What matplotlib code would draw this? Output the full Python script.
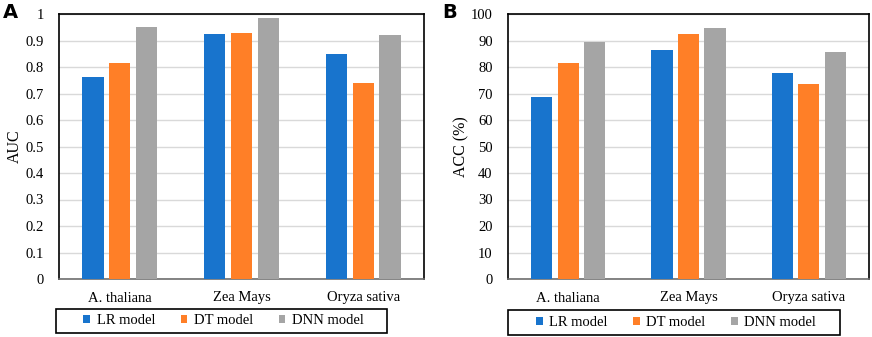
import numpy as np
import matplotlib
matplotlib.use('Agg')
import matplotlib.pyplot as plt
from matplotlib.patches import Rectangle

plt.rcParams['font.family'] = ['Liberation Serif', 'DejaVu Serif']

species = ['A. thaliana', 'Zea Mays', 'Oryza sativa']
models = ['LR model', 'DT model', 'DNN model']
colors = ['#1874CD', '#FF7F27', '#A5A5A5']

# AUC values (panel A)
auc_lr = [0.761, 0.924, 0.848]
auc_dt = [0.816, 0.929, 0.738]
auc_dnn = [0.952, 0.986, 0.921]

# ACC values in % (panel B)
acc_lr = [68.8, 86.6, 77.6]
acc_dt = [81.6, 92.6, 73.6]
acc_dnn = [89.4, 94.8, 85.5]

fig = plt.figure(figsize=(8.72, 3.37), dpi=100)


def draw_panel(rect, series, ylim, yticks, ylabel, letter, letter_x, leg_box, ylabel_x):
    ax = fig.add_axes(rect)
    x = np.arange(len(species))
    width = 0.175
    offsets = [-0.22, 0, 0.22]
    handles = []
    for vals, off, c, lab in zip(series, offsets, colors, models):
        h = ax.bar(x + off, vals, width, color=c, label=lab, zorder=3)
        handles.append(h)
    ax.set_xlim(-0.5, 2.5)
    ax.set_ylim(*ylim)
    ax.set_yticks(yticks)
    ax.set_xticks(x)
    ax.set_xticklabels(species, fontsize=10.5)
    ax.tick_params(axis='y', labelsize=10.5, length=0, pad=11)
    ax.tick_params(axis='x', length=0, pad=9)
    ax.grid(axis='y', color='#D9D9D9', linewidth=1, zorder=0)
    for s in ax.spines.values():
        s.set_color('black')
        s.set_linewidth(1.2)
    ax.spines['bottom'].set_color('#6E6E6E')
    ax.set_ylabel(ylabel, fontsize=11.5)
    ax.yaxis.set_label_coords(ylabel_x, 0.5)
    fig.text(letter_x, 0.99, letter, fontsize=14, fontweight='bold',
             family='DejaVu Sans', va='top', ha='left')
    # legend box
    fig.patches.append(Rectangle((leg_box[0], leg_box[1]), leg_box[2], leg_box[3],
                                 transform=fig.transFigure, fill=False,
                                 edgecolor='black', linewidth=1.2))
    fig.legend(handles=handles, labels=models, loc='center', ncol=3,
               bbox_to_anchor=(leg_box[0] + leg_box[2] / 2 + 2 / 872, leg_box[1] + leg_box[3] / 2),
               fontsize=10.5, frameon=False, handlelength=0.45, handleheight=0.45,
               handletextpad=0.45, columnspacing=1.75, borderpad=0, borderaxespad=0)
    return ax


ax_a = draw_panel([59 / 872, 58 / 337, 365 / 872, 265 / 337],
                  [auc_lr, auc_dt, auc_dnn], (0, 1), np.arange(0, 1.01, 0.1).round(1),
                  'AUC', 'A', 3 / 872, (56 / 872, 4 / 337, 331 / 872, 24 / 337), -0.099)
ax_a.set_yticklabels(['0'] + ['%.1f' % v for v in np.arange(0.1, 0.95, 0.1)] + ['1'])

draw_panel([508 / 872, 58 / 337, 361 / 872, 265 / 337],
           [acc_lr, acc_dt, acc_dnn], (0, 100), np.arange(0, 101, 10),
           'ACC (%)', 'B', 442 / 872, (508 / 872, 2 / 337, 332 / 872, 25 / 337), -0.108)

plt.savefig('out.png', dpi=100)
